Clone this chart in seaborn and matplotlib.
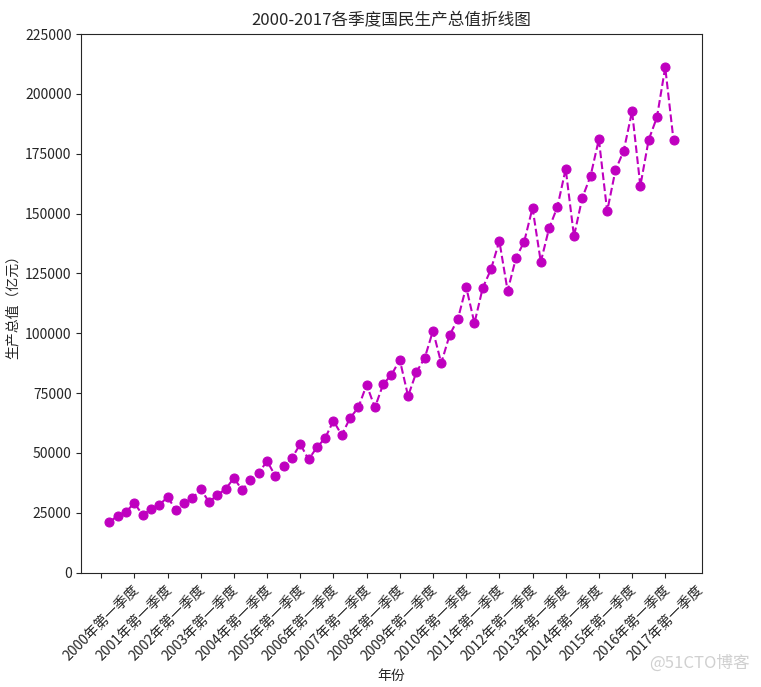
import matplotlib
matplotlib.use("Agg")
import matplotlib.pyplot as plt
import seaborn as sns

# 2000年第一季度 ~ 2017年第一季度, 共69个季度
years = list(range(2000, 2018))
tick_labels = [f"{y}年第一季度" for y in years]

gdp = [
    21160, 23790, 25460, 29090,
    24080, 26590, 28260, 31600,
    26300, 29090, 31010, 34940,
    29510, 32430, 34940, 39530,
    34520, 38820, 41740, 46620,
    40360, 44370, 47880, 53720,
    47300, 52300, 56220, 63440,
    57470, 64570, 69000, 78470,
    69000, 78760, 82650, 88900,
    73750, 83770, 89620, 101010,
    87530, 99220, 105890, 119380,
    104220, 118960, 126770, 138580,
    117710, 131360, 138290, 152350,
    129810, 143880, 152770, 168630,
    140540, 156530, 165710, 181030,
    150970, 168090, 176270, 192710,
    161530, 180740, 190210, 211080,
    180610,
]
quarter_idx = list(range(1, len(gdp) + 1))

sns.set_style("ticks", {"xtick.major.size": 3.5, "ytick.major.size": 3.5})
plt.rcParams["font.family"] = ["Noto Sans CJK SC", "DejaVu Sans"]
plt.rcParams["axes.unicode_minus"] = False

fig = plt.figure(figsize=(7.61, 6.87), dpi=100)
ax = fig.add_axes([0.1068, 0.1664, 0.8153, 0.7841])

sns.lineplot(x=quarter_idx, y=gdp, ax=ax, color="m", linestyle="--",
             marker="o", markersize=6.5, markeredgecolor="m", linewidth=1.5)

ax.set_ylim(0, 225000)
ax.set_yticks(range(0, 225001, 25000))
ax.set_xticks(range(0, len(gdp), 4))
ax.set_xticklabels(tick_labels, rotation=45, fontsize=10)
ax.tick_params(axis="y", labelsize=10)
ax.set_title("2000-2017各季度国民生产总值折线图", fontsize=12)
ax.set_xlabel("年份", fontsize=10)
ax.set_ylabel("生产总值（亿元）", fontsize=10)

fig.text(0.985, 0.028, "@51CTO博客", color="#d0d0d0", fontsize=12, ha="right")

fig.savefig("out.png", dpi=100)
